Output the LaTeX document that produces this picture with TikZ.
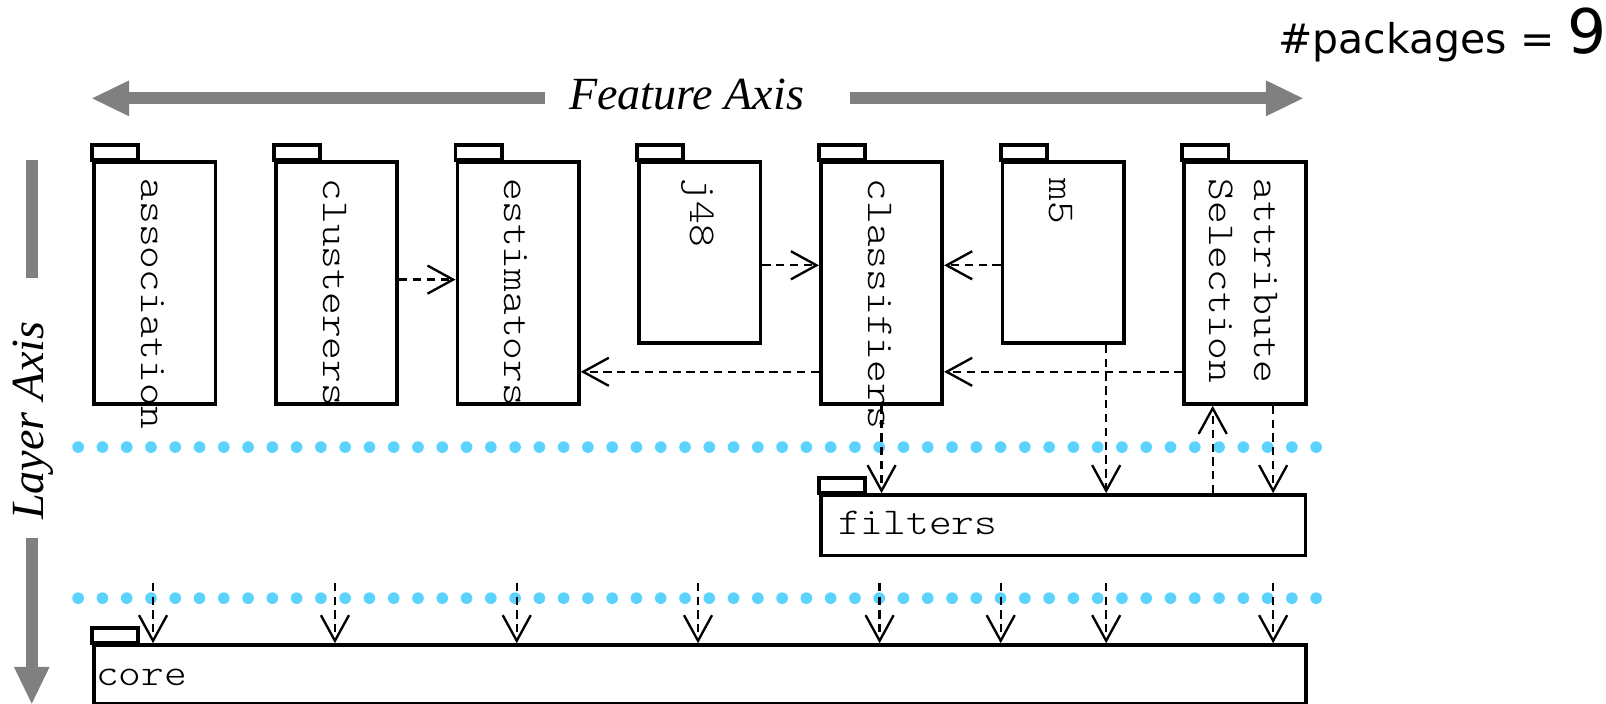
\documentclass[tikz,border=0pt]{standalone}
\usepackage{fontspec}
\setmainfont{Liberation Serif}
\newfontfamily\pkgfont[FakeStretch=1.143]{lmmonolt10-regular.otf}
\newfontfamily\countfont{DejaVu Sans}
\usetikzlibrary{arrows.meta}

\definecolor{axisgray}{RGB}{128,128,128}
\definecolor{layerdot}{RGB}{92,210,255}

\tikzset{
  pkgbody/.style={draw, line width=1.85pt, inner sep=0pt, anchor=north west, minimum width=59.25pt},
  tallpkg/.style={pkgbody, minimum height=118.25pt},
  shortpkg/.style={pkgbody, minimum height=88.5pt},
  pkgtab/.style={draw, line width=1.85pt},
  pkgname/.style={font=\fontsize{18.5pt}{22pt}\selectfont\pkgfont, inner sep=0pt, rotate=-90, anchor=west, align=left},
  flatname/.style={font=\fontsize{18.5pt}{22pt}\selectfont\pkgfont, inner sep=0pt, anchor=base west},
  dep/.style={line width=1.15pt, dash pattern=on 4pt off 2.75pt,
    -{Straight Barb[length=12.5pt, width=13.7pt]}},
  axisline/.style={draw=axisgray, line width=5.75pt},
  axisarrow/.style={axisline, -{Triangle[length=18pt, width=17.5pt, line width=0pt]}},
  axislabel/.style={font=\fontsize{22.5pt}{27pt}\selectfont\itshape, inner sep=0pt},
  layerdots/.style={fill=layerdot},
}

\begin{document}
\begin{tikzpicture}[x=0.5pt, y=-0.5pt]
\useasboundingbox (0,0) rectangle (1568,687);

% ---- axes ----
\coordinate (feat-left-start) at (532,96);
\coordinate (feat-left-tip) at (90,96);
\coordinate (feat-right-start) at (830,96);
\coordinate (feat-right-tip) at (1272,96);
\draw[axisarrow] (feat-left-start) -- (feat-left-tip);
\draw[axisarrow] (feat-right-start) -- (feat-right-tip);
\node[axislabel, anchor=base] (feature-axis) at (670.3,106.7) {Feature Axis};

\coordinate (layer-top-start) at (31,156);
\coordinate (layer-top-end) at (31,271);
\coordinate (layer-low-start) at (31,525);
\coordinate (layer-low-tip) at (31,687);
\draw[axisline] (layer-top-start) -- (layer-top-end);
\draw[axisarrow] (layer-low-start) -- (layer-low-tip);
\node[axislabel, rotate=90, anchor=base] (layer-axis) at (42.3,410.7) {Layer Axis};

\node[anchor=base east, inner sep=0pt, font=\countfont\fontsize{20pt}{24pt}\selectfont]
  (package-count) at (1569,52) {\#packages = {\fontsize{30pt}{32pt}\selectfont 9}};

% ---- layer separators ----
\foreach \i in {0,...,51} {
  \fill[layerdots] (76.3+23.7*\i,436.5) circle[radius=2.85pt];
  \fill[layerdots] (76.3+23.7*\i,584) circle[radius=2.85pt];
}

% ---- packages ----
\node[tallpkg]  (association)        at (90,156)    {};
\node[tallpkg]  (clusterers)         at (267.4,156) {};
\node[tallpkg]  (estimators)         at (444.8,156) {};
\node[shortpkg] (j48)                at (622.2,156) {};
\node[tallpkg]  (classifiers)        at (799.6,156) {};
\node[shortpkg] (m5)                 at (977,156)   {};
\node[tallpkg]  (attributeSelection) at (1154.4,156) {};

\node[pkgbody, minimum width=236.6pt, minimum height=29.5pt] (filters) at (799.6,481.5) {};
\node[pkgbody, minimum width=591.45pt, minimum height=28.75pt] (core) at (90,628) {};

\foreach \p in {association,clusterers,estimators,j48,classifiers,m5,attributeSelection,filters,core}
  \draw[pkgtab] (\p.north west) rectangle ++(45,-14.5);

% ---- package names ----
\node[pkgname] (association-name)  at (149.2,174) {association};
\node[pkgname] (clusterers-name)   at (326.6,174) {clusterers};
\node[pkgname] (estimators-name)   at (504.0,174) {estimators};
\node[pkgname] (j48-name)          at (681.4,174) {j48};
\node[pkgname] (classifiers-name)  at (858.8,174) {classifiers};
\node[pkgname] (m5-name)           at (1036.2,174) {m5};
\node[pkgname] (attributeSelection-name) at (1213.6,174) {attribute\\Selection};
\node[flatname] (filters-name) at (818,521.5) {filters};
\node[flatname] (core-name)    at (93.5,669) {core};

% ---- dependencies inside the upper layer ----
\draw[dep] (clusterers.east |- 0,273) -- (estimators.west |- 0,273);
\draw[dep] (j48.east |- 0,259) -- (classifiers.west |- 0,259);
\draw[dep] (m5.west |- 0,259) -- (classifiers.east |- 0,259);
\draw[dep] (classifiers.west |- 0,363) -- (estimators.east |- 0,363);
\draw[dep] (attributeSelection.west |- 0,363) -- (classifiers.east |- 0,363);

% ---- dependencies on filters ----
\draw[dep] (classifiers.south) -- (filters.north -| classifiers.south);
\draw[dep] (m5.south -| 1080,0) -- (filters.north -| 1080,0);
\draw[dep] (filters.north -| 1184,0) -- (attributeSelection.south -| 1184,0);
\draw[dep] (attributeSelection.south -| 1243,0) -- (filters.north -| 1243,0);

% ---- dependencies on core ----
\foreach \p/\x in {association/149.4, clusterers/327, estimators/504.5, j48/681.5,
                   classifiers/858.8, filters/977, m5/1080, attributeSelection/1243} {
  \coordinate (\p-uses-core) at (\x,569);
  \draw[dep] (\p-uses-core) -- (core.north -| \p-uses-core);
}
\end{tikzpicture}
\end{document}
